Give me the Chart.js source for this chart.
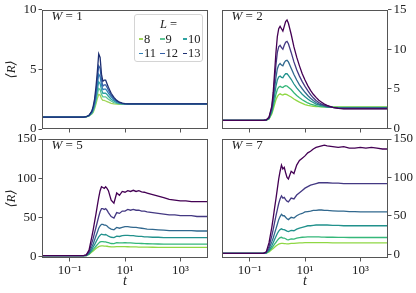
<!DOCTYPE html>
<html>
<head>
<meta charset="utf-8">
<script src="https://cdn.jsdelivr.net/npm/chart.js@4.4.1/dist/chart.umd.min.js"></script>
<style>
  body { margin: 0; background: #fff; font-family: 'Liberation Serif', serif; }
  #wrap { position: relative; width: 416px; height: 293px; overflow: hidden; }
  #wrap canvas { position: absolute; left: 0; top: 0; }
  #legend { position: absolute; left: 134px; top: 14px; width: 69px; height: 48px; box-sizing: border-box;
            border: 1px solid #d4d4d4; border-radius: 3px; background: rgba(255,255,255,0.85); color: #222; font-size: 12.5px; }
  #legend .ttl { position: absolute; left: 0; width: 100%; top: 1px; text-align: center; line-height: 16px; }
  #legend .it { position: absolute; line-height: 14px; white-space: nowrap; }
  #legend .it span { display: inline-block; width: 4.5px; height: 1.4px; vertical-align: middle; margin-right: 1px; margin-top: -1px; }
</style>
</head>
<body>
<div id="wrap">
  <canvas id="c1" width="416" height="293"></canvas>
  <canvas id="c2" width="416" height="293"></canvas>
  <canvas id="c3" width="416" height="293"></canvas>
  <canvas id="c4" width="416" height="293"></canvas>
  <div id="legend"></div>
</div>
<script>
// time grid (shared by all panels)
const t = [0.01, 0.0316, 0.1, 0.178, 0.251, 0.316, 0.398, 0.501, 0.631, 0.708, 0.794, 0.891, 1,
  1.122, 1.259, 1.413, 1.585, 1.778, 1.995, 2.239, 2.512, 3.162, 3.981, 5.012, 6.31, 7.943, 10,
  12.59, 15.85, 19.95, 25.12, 31.62, 39.81, 50.12, 63.1, 100, 158.5, 251.2, 398.1, 631, 1000,
  1585, 2512, 3981, 6310, 10000];
const sizes = [8, 9, 10, 11, 12, 13];

const xTicks = [0.1, 10, 1000];
const xTickLabels = ['10⁻¹', '10¹', '10³'];
const yTicksW1 = [0, 5, 10];
const yTicksW2 = [0, 5, 10, 15];
const yTicksW5 = [0, 50, 100, 150];
const yTicksW7 = [0, 50, 100, 150];

// W = 1
const W1_L8  = [1,1,1,1,1,1, 1.02,1.1,1.25,1.4,1.7,2.1,2.55, 2.9,2.85,2.55,2.4,2.4,2.35,2.3,2.25, 2.15,2.1,2.08,2.07,2.07,2.07,2.07,2.07,2.07,2.07,2.07,2.07,2.07,2.07, 2.07,2.07,2.07,2.07,2.07,2.07,2.07,2.07,2.07,2.07,2.07];
const W1_L9  = [1,1,1,1,1,1, 1.02,1.1,1.3,1.5,1.85,2.3,2.9, 3.4,3.3,2.9,2.7,2.7,2.7,2.6,2.5, 2.35,2.22,2.15,2.12,2.1,2.1,2.1,2.1,2.1,2.1,2.1,2.1,2.1,2.1, 2.1,2.1,2.1,2.1,2.1,2.1,2.1,2.1,2.1,2.1,2.1];
const W1_L10 = [1,1,1,1,1,1, 1.03,1.12,1.35,1.6,2.0,2.55,3.3, 3.95,3.8,3.3,3.0,3.0,3.0,2.9,2.75, 2.5,2.35,2.22,2.15,2.12,2.1,2.1,2.1,2.1,2.1,2.1,2.1,2.1,2.1, 2.1,2.1,2.1,2.1,2.1,2.1,2.1,2.1,2.1,2.1,2.1];
const W1_L11 = [1,1,1,1,1,1, 1.03,1.13,1.4,1.7,2.15,2.8,3.7, 4.6,4.4,3.7,3.3,3.35,3.35,3.2,3.0, 2.7,2.45,2.3,2.2,2.14,2.11,2.1,2.1,2.1,2.1,2.1,2.1,2.1,2.1, 2.1,2.1,2.1,2.1,2.1,2.1,2.1,2.1,2.1,2.1,2.1];
const W1_L12 = [1,1,1,1,1,1, 1.03,1.14,1.45,1.8,2.3,3.1,4.2, 5.3,5.1,4.1,3.6,3.7,3.7,3.5,3.25, 2.85,2.55,2.35,2.22,2.15,2.12,2.1,2.1,2.1,2.1,2.1,2.1,2.1,2.1, 2.1,2.1,2.1,2.1,2.1,2.1,2.1,2.1,2.1,2.1,2.1];
const W1_L13 = [1,1,1,1,1,1, 1.03,1.15,1.5,1.9,2.5,3.5,4.8, 6.3,6.0,4.6,4.0,4.1,4.1,3.8,3.5, 3.0,2.65,2.4,2.25,2.17,2.13,2.11,2.1,2.1,2.1,2.1,2.1,2.1,2.1, 2.1,2.1,2.1,2.1,2.1,2.1,2.1,2.1,2.1,2.1,2.1];

// W = 2
const W2_L8  = [1,1,1,1,1,1, 1.03,1.18,1.8,2.35,3.0,3.6,4.0, 4.25,4.35,4.25,4.2,4.3,4.3,4.25,4.15, 3.95,3.7,3.5,3.3,3.15,3.0,2.9,2.83,2.78,2.75,2.73,2.7,2.7,2.7, 2.7,2.7,2.7,2.7,2.7,2.7,2.7,2.7,2.7,2.7,2.7];
const W2_L9  = [1,1,1,1,1,1, 1.03,1.2,2.0,2.7,3.5,4.3,4.9, 5.2,5.3,5.2,5.15,5.3,5.4,5.35,5.2, 4.9,4.5,4.15,3.85,3.6,3.4,3.2,3.05,2.95,2.85,2.78,2.73,2.7,2.68, 2.66,2.65,2.65,2.65,2.65,2.65,2.65,2.65,2.65,2.65,2.65];
const W2_L10 = [1,1,1,1,1,1, 1.04,1.25,2.2,3.1,4.2,5.3,6.1, 6.5,6.6,6.45,6.4,6.7,6.9,6.9,6.7, 6.2,5.6,5.1,4.7,4.3,4.0,3.7,3.45,3.25,3.05,2.95,2.85,2.78,2.72, 2.65,2.62,2.6,2.6,2.6,2.6,2.6,2.6,2.6,2.6,2.6];
const W2_L11 = [1,1,1,1,1,1, 1.04,1.3,2.4,3.5,5.0,6.4,7.5, 8.0,8.2,8.0,7.9,8.3,8.55,8.6,8.4, 7.6,6.8,6.1,5.5,5.0,4.55,4.15,3.8,3.5,3.25,3.05,2.95,2.85,2.75, 2.65,2.58,2.55,2.55,2.55,2.55,2.55,2.55,2.55,2.55,2.55];
const W2_L12 = [1,1,1,1,1,1, 1.05,1.35,2.6,4.0,6.0,8.0,9.6, 10.3,10.5,10.2,10.0,10.5,10.9,11.0,10.7, 9.6,8.4,7.4,6.6,5.9,5.3,4.75,4.25,3.85,3.5,3.25,3.05,2.9,2.8, 2.63,2.55,2.5,2.5,2.5,2.5,2.5,2.5,2.5,2.5,2.5];
const W2_L13 = [1,1,1,1,1,1, 1.05,1.4,2.8,4.5,7.0,9.6,11.6, 12.6,12.9,12.6,12.3,12.9,13.5,13.7,13.3, 11.9,10.3,9.0,7.9,6.9,6.1,5.4,4.8,4.3,3.9,3.55,3.3,3.05,2.9, 2.65,2.52,2.45,2.45,2.45,2.45,2.45,2.45,2.45,2.45,2.45];

// W = 5
const W5_L8  = [1,1,1,1,1,1, 1.1,2.5,5.5,7,8.5,10,11.5, 12.5,13.3,13.6,13.5,13.2,13.2,13,12.7, 12.2,12.1,12.6,12.5,12.5,12.5,12.4,12.3,12.2,12.1,12,11.9,11.8,11.8, 11.7,11.6,11.6,11.5,11.5,11.5,11.5,11.5,11.5,11.5,11.5];
const W5_L9  = [1,1,1,1,1,1, 1.1,3,7,9,11,13,15, 17,18.5,19,19,18.5,18.5,18,17.5, 16.5,16.3,17.5,17.2,17.4,17.5,17.3,17.2,17,16.8,16.6,16.5,16.3,16.2, 16,15.9,15.8,15.7,15.7,15.7,15.7,15.7,15.7,15.7,15.7];
const W5_L10 = [1,1,1,1,1,1, 1.2,3.5,9,12,15,18.5,22, 25,27,28.5,28,27.5,28,27,26, 24.5,24,26,25.5,26.5,27,27,26.5,26.5,26,25.5,25.5,25,25, 24.5,24.5,24,24,24,24,24,24,24,24,24];
const W5_L11 = [1,1,1,1,1,1, 1.3,4.5,12,16,21,26,31, 36,39,41,41,40,40,39,37, 35,34,37,36,37,38,38,37.5,37,37,36.5,36,35.5,35, 34.5,34,33.5,33,33,33,33,33,32.5,32.5,32.5];
const W5_L12 = [1,1,1,1,1,1, 1.5,6,17,23,30,37,44, 51,57,61,61,60,61,59,56, 51,49,56,55,58,58,60,59,60,59,59,58,58,57, 56,55,54,53,53,52,52,52,51,51,51];
const W5_L13 = [1,1,1,1,1,1, 2,8,25,34,44,54,65, 75,84,89,88,87,89,87,84, 72,68,81,78,83,82,84,83,84.5,83,84,82.5,82,81, 79,77,75,73,72,71,71,70,70,70,70];

// W = 7
const W7_L8  = [1,1,1,1,1,1, 1.4,3,6,7.5,9,10.5,12, 13,13.6,14,14,13.8,13.6,13.5,13.4, 14,14,14.5,14.7,14.8,14.9,15,15,15,15,15,15,14.9,14.9, 14.8,14.8,14.7,14.7,14.7,14.7,14.7,14.7,14.7,14.7,14.7];
const W7_L9  = [1,1,1,1,1,1, 1.5,4,8,10.5,13,15.5,18, 20,21.5,22,21,21,20,19,18.6, 19.8,19.5,20.8,21.5,22,22.3,22.5,22.5,22.5,22.5,22.4,22.3,22.2,22, 22,21.8,21.8,21.7,21.7,21.7,21.7,21.7,21.7,21.7,21.7];
const W7_L10 = [1,1,1,1,1,1, 1.8,5,11,15,19,23,27, 30,32,33,32,32,31,30,29.5, 31,30.5,32.5,34,35,36,37,37,37.5,38,38,38,38,38, 37.5,37.5,37,37,37,37,37,37,37,37,37];
const W7_L11 = [1,1,1,1,1,1, 2,7,16,21,27,33,39, 45,49,52,50,50,48,46,45, 48,47,50,52,53,55,55.5,56,57,57,57.5,57.5,57,57, 56.5,56,56,55.5,55.5,55,55,55,55,55,55];
const W7_L12 = [1,1,1,1,1,1, 2.5,10,24,32,41,50,58, 66,72,76,73,74,71,69,68, 73,72,77,80,83,86,88,90,91,92,93,93,93,93, 92.5,92.5,92,92,92,92,92,92,92,92,92];
const W7_L13 = [1,1,1,1,1,1, 3,15,35,47,60,72,85, 98,108,116,111,113,106,100,98, 108,105,116,122,125,128,132,134,137,139,140,141,142,141, 140,139,140,138,138,139,138,139,138,137,137];

const viridis = ['#8fd744', '#35b779', '#21918c', '#31688e', '#443983', '#440154'];
const bluish = ['#a2d65a', '#5cc595', '#2fa3a2', '#3180b6', '#345fa7', '#1d2f72'];
const axisColor = '#555';
const textColor = '#222';
const serif = "'Liberation Serif', 'DejaVu Serif', serif";

Chart.defaults.font.family = serif;
Chart.defaults.font.size = 13;
Chart.defaults.color = textColor;

// box round the plot area
const frame = {
  id: 'frame',
  afterDraw(chart) {
    const { ctx, chartArea: a } = chart;
    ctx.save();
    ctx.strokeStyle = axisColor;
    ctx.lineWidth = 1;
    ctx.strokeRect(Math.round(a.left) + 0.5, Math.round(a.top) + 0.5,
      Math.round(a.right - a.left) - 1, Math.round(a.bottom - a.top) - 1);
    ctx.restore();
  }
};

// "W = n" in the top left corner
const panelLabel = {
  id: 'panelLabel',
  afterDraw(chart, args, opts) {
    const { ctx, chartArea: a } = chart;
    ctx.save();
    ctx.fillStyle = textColor;
    ctx.textBaseline = 'middle';
    const x = a.left + 9.5, y = a.top + 7;
    ctx.font = 'italic 13px ' + serif;
    ctx.fillText('W', x, y);
    const w = ctx.measureText('W').width;
    ctx.font = '13px ' + serif;
    ctx.fillText(' = ' + opts.text, x + w, y);
    ctx.restore();
  }
};

function makePanel(id, series, colors, cfg) {
  const ctx = document.getElementById(id).getContext('2d');
  return new Chart(ctx, {
    type: 'line',
    data: {
      datasets: series.map((vals, i) => ({
        label: String(sizes[i]),
        data: vals.map((v, k) => ({ x: t[k], y: v })),
        borderColor: colors[i],
        backgroundColor: colors[i],
        borderWidth: 1.3,
        pointRadius: 0,
        fill: false,
        tension: 0,
        order: series.length - i
      }))
    },
    options: {
      responsive: false,
      animation: false,
      events: [],
      layout: { padding: cfg.padding },
      plugins: {
        legend: { display: false },
        tooltip: { enabled: false },
        panelLabel: { text: cfg.label }
      },
      scales: {
        x: {
          type: 'logarithmic',
          min: 0.01,
          max: 10000,
          afterBuildTicks: s => { s.ticks = xTicks.map(v => ({ value: v })); },
          afterFit: s => { s.height = cfg.xh; },
          grid: { drawOnChartArea: false, tickLength: 3.5, color: axisColor },
          border: { display: false },
          ticks: {
            display: cfg.xLabels,
            padding: 1,
            maxRotation: 0,
            autoSkip: false,
            callback: (v, i) => xTickLabels[i]
          },
          title: { display: cfg.xLabels, text: 't', font: { style: 'italic', size: 14 }, padding: { top: 0, bottom: 3 } }
        },
        y: {
          position: cfg.ySide,
          min: cfg.ymin,
          max: cfg.ymax,
          afterBuildTicks: s => { s.ticks = cfg.yTicks.map(v => ({ value: v })); },
          afterFit: s => { s.width = cfg.yw; },
          grid: { drawOnChartArea: false, tickLength: 3.5, color: axisColor },
          border: { display: false },
          ticks: { padding: 2 },
          title: { display: cfg.ySide === 'left', text: '⟨R⟩', font: { style: 'italic', size: 13 }, padding: { top: 4, bottom: 0 } }
        }
      }
    },
    plugins: [frame, panelLabel]
  });
}

const c1 = makePanel('c1', [W1_L8, W1_L9, W1_L10, W1_L11, W1_L12, W1_L13], bluish, {
  label: '1', padding: { left: 0, top: 9, right: 208, bottom: 0 }, yw: 42, xh: 164,
  ySide: 'left', xLabels: false, ymin: 0, ymax: 10, yTicks: yTicksW1
});
makePanel('c2', [W2_L8, W2_L9, W2_L10, W2_L11, W2_L12, W2_L13], viridis, {
  label: '2', padding: { left: 222, top: 9, right: 0, bottom: 0 }, yw: 28, xh: 164,
  ySide: 'right', xLabels: false, ymin: -0.1, ymax: 15, yTicks: yTicksW2
});
makePanel('c3', [W5_L8, W5_L9, W5_L10, W5_L11, W5_L12, W5_L13], viridis, {
  label: '5', padding: { left: 0, top: 139, right: 208, bottom: 0 }, yw: 42, xh: 35,
  ySide: 'left', xLabels: true, ymin: -2, ymax: 150, yTicks: yTicksW5
});
makePanel('c4', [W7_L8, W7_L9, W7_L10, W7_L11, W7_L12, W7_L13], viridis, {
  label: '7', padding: { left: 222, top: 139, right: 0, bottom: 0 }, yw: 28, xh: 35,
  ySide: 'right', xLabels: true, ymin: -5, ymax: 150, yTicks: yTicksW7
});

// legend for the W = 1 panel, built from its datasets (3 columns)
const leg = document.getElementById('legend');
leg.innerHTML = '<div class="ttl"><i>L</i> =</div>';
const colX = [3.5, 25, 47.5];
const rowY = [16.5, 31];
c1.data.datasets.forEach((ds, i) => {
  const el = document.createElement('div');
  el.className = 'it';
  el.style.left = colX[i % 3] + 'px';
  el.style.top = rowY[Math.floor(i / 3)] + 'px';
  el.innerHTML = '<span style="background:' + ds.borderColor + '"></span>' + ds.label;
  leg.appendChild(el);
});
</script>
</body>
</html>
